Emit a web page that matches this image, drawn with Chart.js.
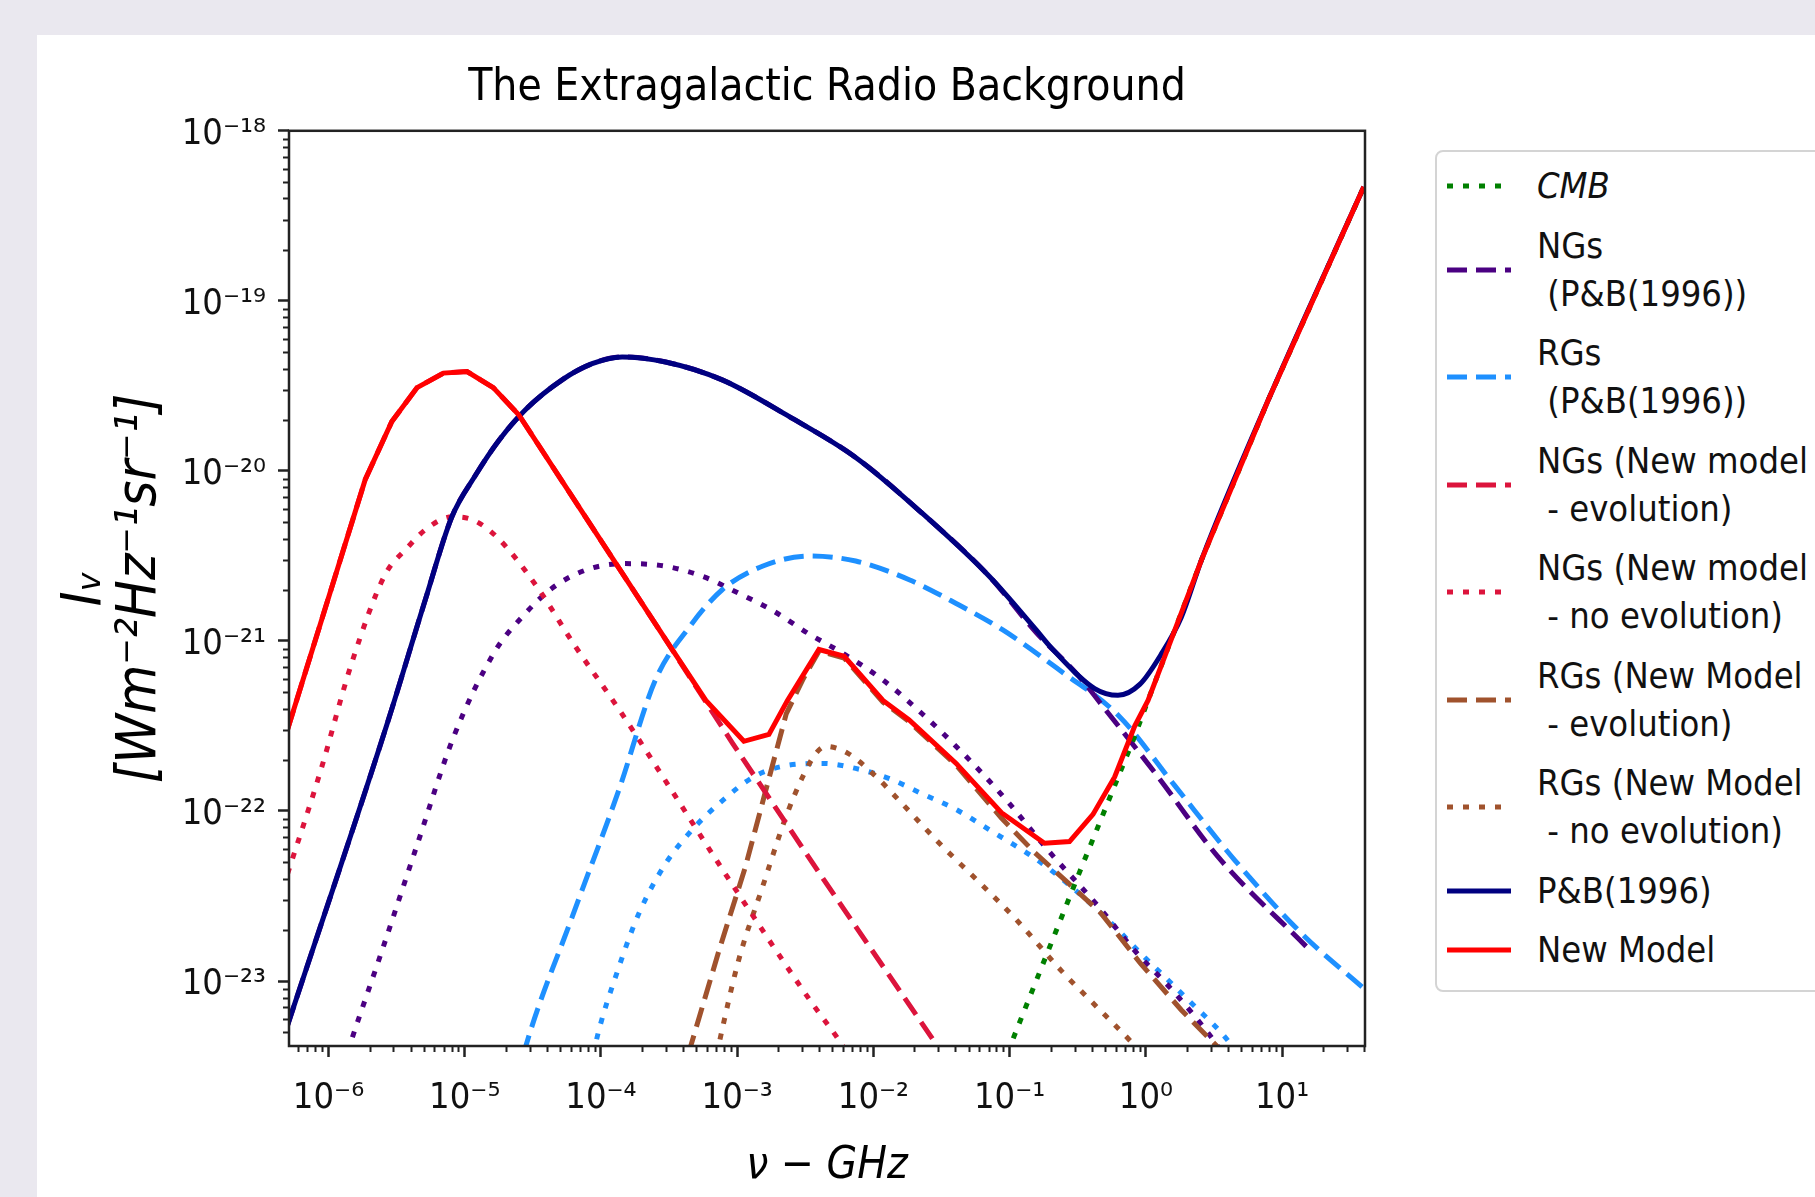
<!DOCTYPE html>
<html>
<head>
<meta charset="utf-8">
<script src="https://cdn.jsdelivr.net/npm/chart.js@4.4.1/dist/chart.umd.min.js"></script>
<style>
  html, body { margin: 0; padding: 0; }
  body { width: 1815px; height: 1197px; background: #eae8ef; overflow: hidden; position: relative; }
  #panel { position: absolute; left: 37px; top: 35px; width: 1778px; height: 1162px; background: #fff; overflow: hidden; }
  #chart { position: absolute; left: 0; top: 0; }
  #legend {
    position: absolute; left: 1398px; top: 115px; width: 520px; height: 842px;
    box-sizing: border-box; border: 2px solid #d4d4d4; border-radius: 8px; background: #fff;
    padding: 10px 0 0 10px; color: #111;
    font-family: 'DejaVu Sans Condensed', 'DejaVu Sans', sans-serif; font-size: 36px; line-height: 48px;
  }
  .item { display: flex; align-items: center; margin-bottom: 11.5px; }
  .item svg { flex: none; margin-right: 26px; }
  .item span { white-space: pre; }
</style>
</head>
<body>
<div id="panel">
  <canvas id="chart" width="1778" height="1162"></canvas>
  <div id="legend"></div>
</div>
<script>
// frequency (GHz) and intensity (W m^-2 Hz^-1 sr^-1)
var newNu = [5.01e-7, 1.862e-6, 2.917e-6, 4.47e-6, 6.98e-6, 1.04e-5, 1.62e-5, 2.49e-5, 7.69e-5, 2.98e-4,
  5.89e-4, 1.12e-3, 1.71e-3, 2.34e-3, 3.98e-3, 6.10e-3, 1.175e-2, 1.83e-2, 4.05e-2, 8.71e-2,
  0.1803, 0.275, 0.409, 0.590, 0.828, 1.037, 2.57, 7.94, 39.8];
var newI = [3.02e-22, 8.91e-21, 1.95e-20, 3.09e-20, 3.76e-20, 3.84e-20, 3.09e-20, 2.14e-20, 5.37e-21, 1.02e-21,
  4.47e-22, 2.57e-22, 2.82e-22, 4.47e-22, 8.91e-22, 8.13e-22, 4.47e-22, 3.43e-22, 1.905e-22, 9.77e-23,
  6.46e-23, 6.61e-23, 9.55e-23, 1.585e-22, 3.16e-22, 4.47e-22, 3.02e-21, 2.63e-20, 4.68e-19];

var pbNu = [5.01e-7, 2.75e-6, 5.13e-6, 8.05e-6, 1.19e-5, 1.78e-5, 2.79e-5, 5.19e-5, 8.61e-5, 1.43e-4,
  2.98e-4, 7.76e-4, 2.40e-3, 7.41e-3, 2.29e-2, 7.08e-2, 0.1567, 0.202, 0.421, 0.624,
  0.902, 1.30, 1.82, 2.57, 7.94, 39.8];
var pbI = [5.50e-24, 3.43e-22, 1.74e-21, 5.37e-21, 9.33e-21, 1.51e-20, 2.29e-20, 3.43e-20, 4.27e-20, 4.68e-20,
  4.37e-20, 3.43e-20, 2.09e-20, 1.20e-20, 5.62e-21, 2.40e-21, 1.16e-21, 9.12e-22, 5.25e-22, 4.79e-22,
  5.55e-22, 8.39e-22, 1.38e-21, 3.02e-21, 2.63e-20, 4.68e-19];

var cmbNu = [7.94e-2, 0.1084, 0.326, 0.828, 1.037, 2.57, 7.94, 39.8];
var cmbI = [2.51e-24, 4.79e-24, 4.37e-23, 2.75e-22, 4.47e-22, 3.02e-21, 2.63e-20, 4.68e-19];

var ngsPbNu = [5.01e-7, 2.75e-6, 5.13e-6, 8.05e-6, 1.19e-5, 1.78e-5, 2.79e-5, 5.19e-5, 8.61e-5, 1.43e-4,
  2.98e-4, 7.76e-4, 2.40e-3, 7.41e-3, 2.29e-2, 7.08e-2, 0.1567, 0.316, 0.501, 1.23, 3.39, 15.6];
var ngsPbI = [5.50e-24, 3.43e-22, 1.74e-21, 5.37e-21, 9.33e-21, 1.51e-20, 2.29e-20, 3.43e-20, 4.27e-20, 4.68e-20,
  4.37e-20, 3.43e-20, 2.09e-20, 1.20e-20, 5.62e-21, 2.40e-21, 1.12e-21, 6.31e-22, 3.98e-22, 1.585e-22, 5.37e-23, 1.55e-23];

var rgsPbNu = [2.40e-5, 2.79e-5, 6.17e-5, 1.35e-4, 2.51e-4, 4.43e-4, 7.76e-4, 1.53e-3, 3.39e-3, 7.41e-3,
  1.83e-2, 4.05e-2, 8.91e-2, 0.240, 0.624, 1.63, 4.50, 13.9, 40.7];
var rgsPbI = [2.51e-24, 4.07e-24, 2.40e-23, 1.32e-22, 5.89e-22, 1.20e-21, 2.0e-21, 2.75e-21, 3.16e-21, 2.95e-21,
  2.29e-21, 1.66e-21, 1.16e-21, 6.61e-22, 3.67e-22, 1.41e-22, 5.13e-23, 1.905e-23, 8.91e-24];

var ngsEvoNu = [5.01e-7, 1.862e-6, 2.917e-6, 4.47e-6, 6.98e-6, 1.04e-5, 1.62e-5, 2.49e-5, 7.69e-5, 2.98e-4,
  9.23e-4, 4.37e-3, 2.88e-2, 4.47e-2];
var ngsEvoI = [3.02e-22, 8.91e-21, 1.95e-20, 3.09e-20, 3.76e-20, 3.84e-20, 3.09e-20, 2.14e-20, 5.37e-21, 1.02e-21,
  2.51e-22, 3.89e-23, 4.27e-24, 2.51e-24];

var ngsNoEvoNu = [5.01e-7, 8.71e-7, 1.48e-6, 2.60e-6, 3.76e-6, 5.25e-6, 8.05e-6, 1.16e-5, 1.73e-5, 3.31e-5,
  6.46e-5, 1.35e-4, 2.75e-4, 8.51e-4, 3.47e-3, 5.50e-3, 8.91e-3];
var ngsNoEvoI = [4.27e-23, 1.70e-22, 7.41e-22, 2.45e-21, 3.51e-21, 4.57e-21, 5.37e-21, 5.13e-21, 4.07e-21, 2.14e-21,
  9.33e-22, 3.98e-22, 1.66e-22, 4.07e-23, 7.59e-24, 4.57e-24, 2.51e-24];

var rgsEvoNu = [3.98e-4, 4.57e-4, 7.35e-4, 1.148e-3, 1.62e-3, 2.29e-3, 3.02e-3, 3.98e-3, 6.10e-3, 1.175e-2,
  1.83e-2, 4.05e-2, 8.67e-2, 0.151, 0.266, 0.468, 0.920, 1.82, 3.39, 5.01];
var rgsEvoI = [2.51e-24, 4.17e-24, 1.51e-23, 4.68e-23, 1.32e-22, 3.72e-22, 5.89e-22, 8.71e-22, 7.94e-22, 4.37e-22,
  3.35e-22, 1.86e-22, 9.12e-23, 5.75e-23, 3.80e-23, 2.51e-23, 1.26e-23, 6.76e-24, 4.07e-24, 2.51e-24];

var rgsNoEvoNu = [6.31e-4, 7.35e-4, 1.023e-3, 1.53e-3, 2.29e-3, 3.02e-3, 3.80e-3, 4.47e-3, 6.46e-3, 1.023e-2,
  1.64e-2, 3.05e-2, 6.00e-2, 0.1122, 0.240, 0.398, 0.805, 1.259];
var rgsNoEvoI = [2.40e-24, 4.27e-24, 1.32e-23, 3.55e-23, 9.33e-23, 1.585e-22, 2.19e-22, 2.40e-22, 2.19e-22, 1.62e-22,
  1.096e-22, 6.46e-23, 3.80e-23, 2.29e-23, 1.148e-23, 7.59e-24, 4.27e-24, 2.82e-24];

// the two unlabelled dotted curves
var ngsPbDotNu = [1.175e-6, 1.445e-6, 2.45e-6, 4.47e-6, 8.32e-6, 1.67e-5, 2.63e-5, 4.37e-5, 7.94e-5, 1.51e-4,
  2.98e-4, 5.55e-4, 1.03e-3, 1.82e-3, 3.39e-3, 5.89e-3, 1.175e-2, 2.29e-2, 4.53e-2, 9.33e-2,
  0.196, 0.447, 0.828, 1.63, 3.21, 5.01];
var ngsPbDotI = [2.51e-24, 4.27e-24, 1.48e-23, 6.31e-23, 2.75e-22, 8.71e-22, 1.38e-21, 2.04e-21, 2.63e-21, 2.85e-21,
  2.75e-21, 2.40e-21, 1.905e-21, 1.51e-21, 1.096e-21, 8.51e-22, 5.89e-22, 3.72e-22, 2.19e-22, 1.175e-22,
  5.75e-23, 2.75e-23, 1.51e-23, 8.51e-24, 4.37e-24, 2.51e-24];

var rgsPbDotNu = [7.94e-5, 9.12e-5, 1.35e-4, 1.905e-4, 2.98e-4, 4.68e-4, 7.76e-4, 1.38e-3, 2.40e-3, 4.23e-3,
  7.41e-3, 1.31e-2, 2.29e-2, 4.05e-2, 7.08e-2, 0.174, 0.468, 0.979, 2.04, 4.27, 6.31];
var rgsPbDotI = [2.40e-24, 4.27e-24, 1.20e-23, 2.51e-23, 4.90e-23, 7.76e-23, 1.148e-22, 1.62e-22, 1.86e-22, 1.905e-22,
  1.78e-22, 1.55e-22, 1.26e-22, 1.02e-22, 7.76e-23, 4.90e-23, 2.51e-23, 1.38e-23, 7.76e-24, 4.17e-24, 2.51e-24];

var xTickValues = [1e-6, 1e-5, 1e-4, 1e-3, 1e-2, 1e-1, 1, 10];
var xTickLabels = ['10⁻⁶', '10⁻⁵', '10⁻⁴', '10⁻³', '10⁻²', '10⁻¹', '10⁰', '10¹'];
var yTickValues = [1e-23, 1e-22, 1e-21, 1e-20, 1e-19, 1e-18];
var yTickLabels = ['10⁻²³', '10⁻²²', '10⁻²¹', '10⁻²⁰', '10⁻¹⁹', '10⁻¹⁸'];

var FONT = "'DejaVu Sans Condensed', 'DejaVu Sans', sans-serif";
var DASHED = [20, 9];
var DOTTED = [6, 10];

var series = [
  {key: 'newModel', label: 'New Model', nu: newNu, val: newI, color: '#ff0000', dash: [], order: 0},
  {key: 'pb', label: 'P&B(1996)', nu: pbNu, val: pbI, color: '#000080', dash: [], order: 1, smooth: true},
  {key: 'cmb', label: 'CMB', nu: cmbNu, val: cmbI, color: '#008000', dash: DOTTED, order: 2, italic: true},
  {key: 'ngsPb', label: 'NGs\n (P&B(1996))', nu: ngsPbNu, val: ngsPbI, color: '#4b0082', dash: DASHED, order: 3, smooth: true},
  {key: 'rgsPb', label: 'RGs\n (P&B(1996))', nu: rgsPbNu, val: rgsPbI, color: '#1e90ff', dash: DASHED, order: 4, smooth: true},
  {key: 'ngsEvo', label: 'NGs (New model\n - evolution)', nu: ngsEvoNu, val: ngsEvoI, color: '#dc143c', dash: DASHED, order: 5},
  {key: 'ngsNoEvo', label: 'NGs (New model\n - no evolution)', nu: ngsNoEvoNu, val: ngsNoEvoI, color: '#dc143c', dash: DOTTED, order: 6, smooth: true},
  {key: 'rgsEvo', label: 'RGs (New Model\n - evolution)', nu: rgsEvoNu, val: rgsEvoI, color: '#a0522d', dash: DASHED, order: 7},
  {key: 'rgsNoEvo', label: 'RGs (New Model\n - no evolution)', nu: rgsNoEvoNu, val: rgsNoEvoI, color: '#a0522d', dash: DOTTED, order: 8, smooth: true},
  {key: 'ngsPbDot', label: null, nu: ngsPbDotNu, val: ngsPbDotI, color: '#4b0082', dash: DOTTED, order: 9, smooth: true},
  {key: 'rgsPbDot', label: null, nu: rgsPbDotNu, val: rgsPbDotI, color: '#1e90ff', dash: DOTTED, order: 10, smooth: true}
];
var legendOrder = ['cmb', 'ngsPb', 'rgsPb', 'ngsEvo', 'ngsNoEvo', 'rgsEvo', 'rgsNoEvo', 'pb', 'newModel'];

function isDecade(v) {
  var l = Math.log10(v);
  return Math.abs(l - Math.round(l)) < 1e-9;
}

function logTicks(scale) {
  var ticks = [];
  var lo = Math.floor(Math.log10(scale.min)), hi = Math.ceil(Math.log10(scale.max));
  for (var e = lo; e <= hi; e++) {
    for (var m = 1; m <= 9; m++) {
      var v = Number(m + 'e' + e);
      if (v >= scale.min && v <= scale.max) ticks.push({value: v});
    }
  }
  scale.ticks = ticks;
}

function labelFor(values, labels) {
  return function (value) {
    if (!isDecade(value)) return '';
    for (var i = 0; i < values.length; i++) {
      if (Math.abs(Math.log10(values[i]) - Math.log10(value)) < 1e-6) return labels[i];
    }
    return '';
  };
}

function majorTickColor(ctx) {
  return ctx.tick && isDecade(ctx.tick.value) ? '#222' : 'rgba(0,0,0,0)';
}

// frame on all four sides plus short minor ticks
var framePlugin = {
  id: 'frame',
  afterDatasetsDraw: function (chart) {
    var ctx = chart.ctx, a = chart.chartArea;
    var xs = chart.scales.x, ys = chart.scales.y;
    ctx.save();
    ctx.strokeStyle = '#222';
    ctx.lineWidth = 2;
    ctx.beginPath();
    xs.ticks.forEach(function (t) {
      if (isDecade(t.value)) return;
      var px = Math.round(xs.getPixelForValue(t.value)) + 0.5;
      ctx.moveTo(px, a.bottom); ctx.lineTo(px, a.bottom + 6);
    });
    ys.ticks.forEach(function (t) {
      if (isDecade(t.value)) return;
      var py = Math.round(ys.getPixelForValue(t.value)) + 0.5;
      ctx.moveTo(a.left - 6, py); ctx.lineTo(a.left, py);
    });
    ctx.stroke();
    ctx.lineWidth = 2.5;
    ctx.strokeRect(a.left, a.top, a.right - a.left, a.bottom - a.top);
    ctx.restore();
  }
};

function buildDatasets() {
  return series.map(function (s) {
    return {
      label: s.label || '',
      data: s.nu.map(function (x, i) { return {x: x, y: s.val[i]}; }),
      borderColor: s.color,
      borderWidth: 5,
      borderDash: s.dash,
      borderCapStyle: 'butt',
      pointRadius: 0,
      fill: false,
      tension: 0,
      cubicInterpolationMode: s.smooth ? 'monotone' : 'default',
      clip: 0,
      order: s.order
    };
  });
}

function buildLegend() {
  var box = document.getElementById('legend');
  legendOrder.forEach(function (key) {
    var s = series.filter(function (d) { return d.key === key; })[0];
    var item = document.createElement('div');
    item.className = 'item';
    var dash = s.dash.length ? ' stroke-dasharray="' + s.dash.join(' ') + '"' : '';
    item.innerHTML = '<svg width="64" height="12"><line x1="0" y1="6" x2="64" y2="6" stroke="' + s.color +
      '" stroke-width="5"' + dash + '/></svg>';
    var txt = document.createElement('span');
    txt.textContent = s.label;
    if (s.italic) txt.style.fontStyle = 'italic';
    item.appendChild(txt);
    box.appendChild(item);
  });
}

Chart.defaults.font.family = FONT;
Chart.defaults.color = '#111';

new Chart(document.getElementById('chart'), {
  type: 'line',
  data: {datasets: buildDatasets()},
  plugins: [framePlugin],
  options: {
    responsive: false,
    animation: false,
    devicePixelRatio: 1,
    layout: {padding: {top: 27, right: 450, bottom: 0, left: 0}},
    plugins: {
      legend: {display: false},
      tooltip: {enabled: false},
      title: {
        display: true,
        text: 'The Extragalactic Radio Background',
        fullSize: false,
        color: '#000',
        font: {family: FONT, size: 44, weight: 'normal', lineHeight: 1.2},
        padding: {top: 0, bottom: 16}
      }
    },
    scales: {
      x: {
        type: 'logarithmic',
        min: 5.13e-7,
        max: 40.6,
        afterBuildTicks: logTicks,
        afterFit: function (s) { s.height = 151; },
        border: {display: false},
        grid: {drawOnChartArea: false, tickLength: 11, tickWidth: 2.5, tickColor: majorTickColor},
        ticks: {
          autoSkip: false, maxRotation: 0, padding: 20, color: '#111',
          font: {size: 36},
          callback: labelFor(xTickValues, xTickLabels)
        },
        title: {
          display: true, text: 'ν − GHz', color: '#000',
          font: {family: FONT, size: 44, style: 'italic', lineHeight: 1.2},
          padding: {top: 0, bottom: 4}
        }
      },
      y: {
        type: 'logarithmic',
        min: 4.15e-24,
        max: 1e-18,
        afterBuildTicks: logTicks,
        afterFit: function (s) { s.width = 252; },
        border: {display: false},
        grid: {drawOnChartArea: false, tickLength: 11, tickWidth: 2.5, tickColor: majorTickColor},
        ticks: {
          autoSkip: false, padding: 12, color: '#111', labelOffset: 4,
          font: {size: 36},
          callback: labelFor(yTickValues, yTickLabels)
        },
        title: {
          display: true, text: ['I\u1D65', '[Wm⁻²Hz⁻¹sr⁻¹]'], color: '#000',
          font: {family: FONT, size: 56, style: 'italic', lineHeight: 0.98},
          padding: {top: 21, bottom: 0}
        }
      }
    }
  }
});

buildLegend();
</script>
</body>
</html>
